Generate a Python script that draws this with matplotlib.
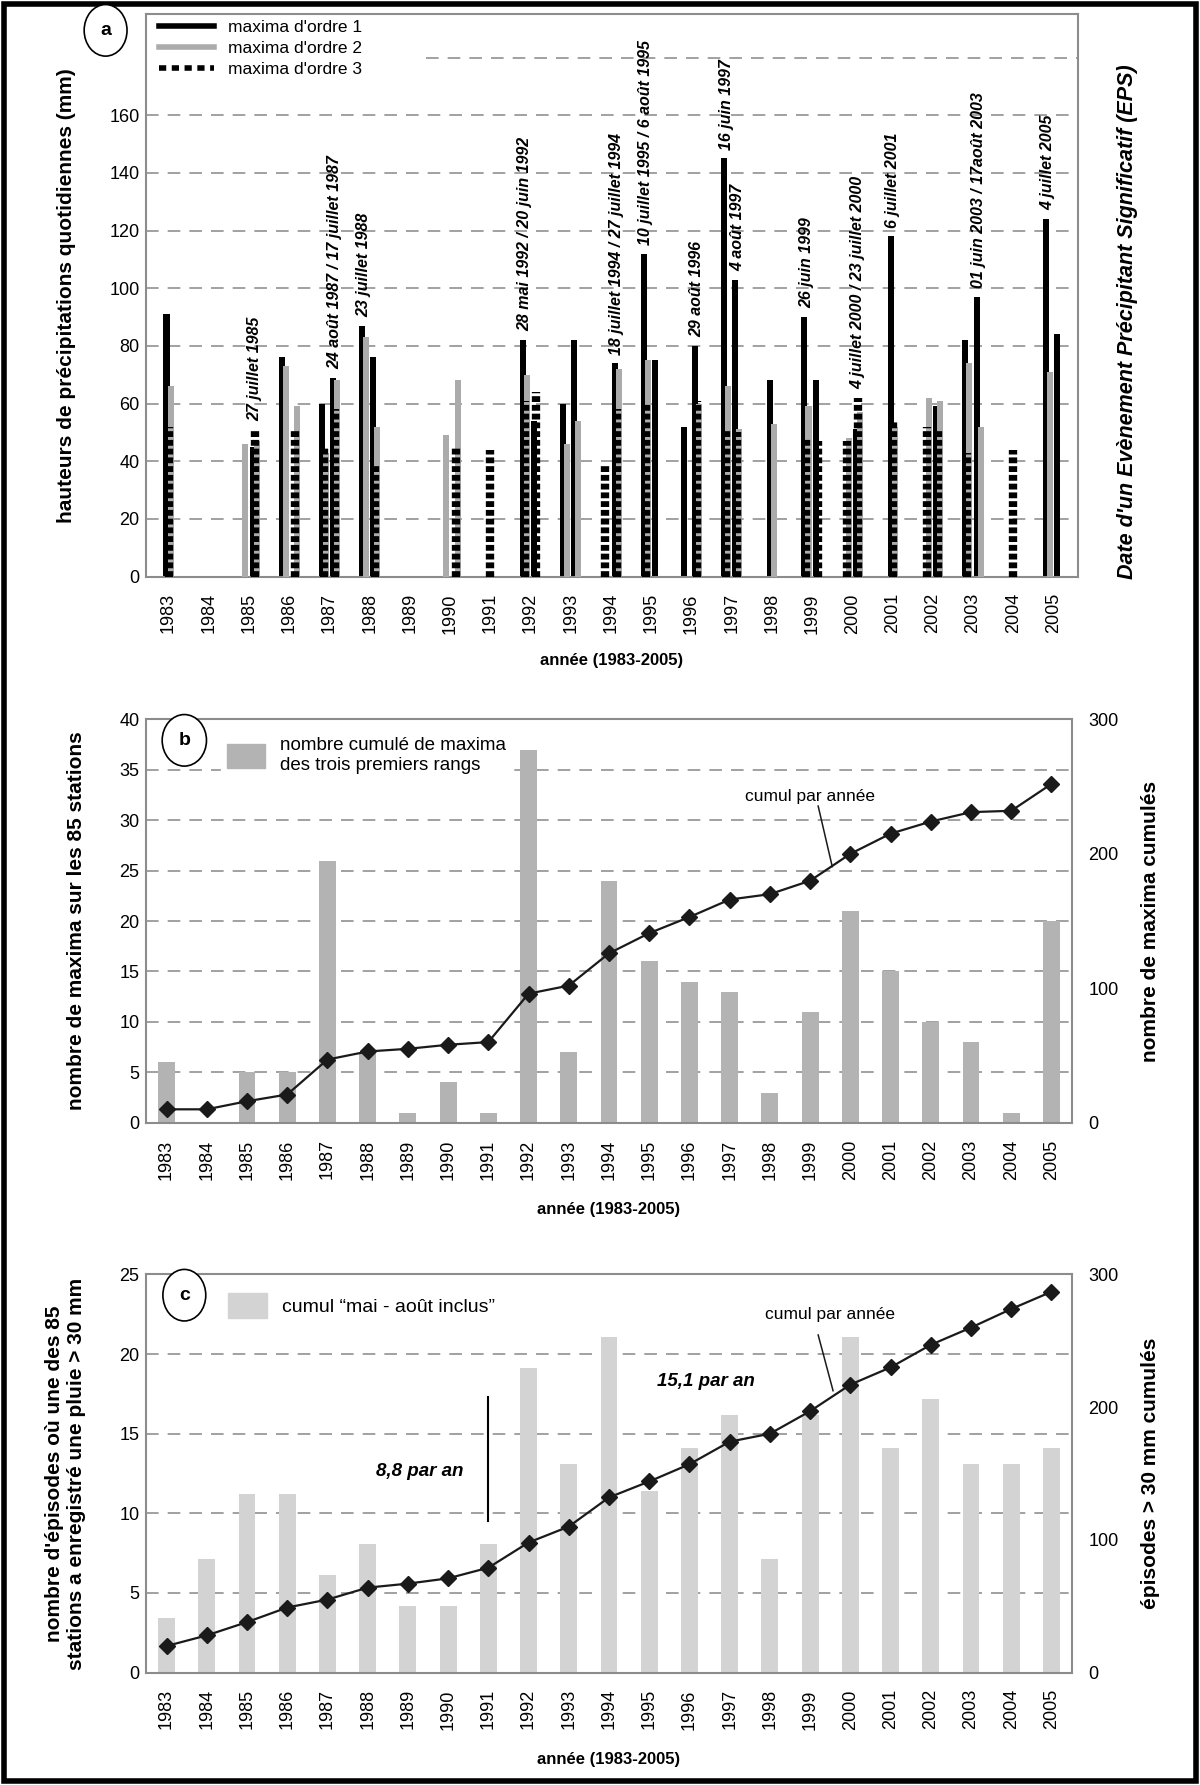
import numpy as np
import matplotlib
matplotlib.use("Agg")
import matplotlib.pyplot as plt
from matplotlib import font_manager
from matplotlib.lines import Line2D
from matplotlib.patches import Patch, Rectangle
from collections import Counter

plt.rcParams['font.family'] = ['Liberation Sans', 'DejaVu Sans']

years = list(range(1983, 2006))

# ---- panneau a : une colonne = un EPS, valeurs des maxima d'ordre 1, 2, 3 (0 = absent)
col_year = [1983, 1985, 1985, 1986, 1986, 1987, 1987, 1988, 1988, 1990, 1990, 1991,
            1992, 1992, 1993, 1993, 1994, 1994, 1995, 1995, 1996, 1996, 1997, 1997,
            1998, 1999, 1999, 2000, 2000, 2001, 2002, 2002, 2003, 2003, 2004, 2005, 2005]
ordre1 = [91, 0, 45, 76, 0, 60, 69, 87, 76, 0, 0, 0,
          82, 54, 60, 82, 0, 74, 112, 75, 52, 80, 145, 103,
          68, 90, 68, 0, 51, 118, 0, 59, 82, 97, 0, 124, 84]
ordre2 = [66, 46, 47, 73, 59, 43, 68, 83, 52, 49, 68, 0,
          70, 0, 46, 54, 0, 72, 75, 0, 0, 60, 66, 51,
          53, 59, 0, 48, 57, 52, 62, 61, 74, 52, 0, 71, 0]
ordre3 = [52, 0, 51, 0, 51, 45, 58, 0, 39, 0, 45, 44,
          61, 64, 0, 0, 39, 58, 60, 0, 0, 61, 51, 50,
          0, 48, 47, 47, 62, 54, 52, 51, 43, 0, 44, 0, 0]

# dates des EPS (année, colonne dans l'année, texte)
date_year = [1985, 1987, 1988, 1992, 1994, 1995, 1996, 1997, 1997, 1999, 2000, 2001, 2003, 2005]
date_col = [1, 1, 0, 0, 1, 0, 1, 0, 1, 0, 1, 0, 1, 0]
date_txt = ["27 juillet 1985", "24 août 1987 / 17 juillet 1987", "23 juillet 1988",
            "28 mai 1992 / 20 juin 1992", "18 juillet 1994 / 27 juillet 1994",
            "10 juillet 1995 / 6 août 1995", "29 août 1996", "16 juin 1997", "4 août 1997",
            "26 juin 1999", "4 juillet 2000 / 23 juillet 2000", "6 juillet 2001",
            "01 juin 2003 / 17août 2003", "4 juillet 2005"]

# ---- panneau b
nb_maxima = [6, 0, 5, 5, 26, 7, 1, 4, 1, 37, 7, 24, 16, 14, 13, 3, 11, 21, 15, 10, 8, 1, 20]
cumul_b = [10, 10, 16, 21, 47, 53, 55, 58, 60, 96, 102, 126, 141, 153, 166, 170,
           180, 200, 215, 224, 231, 232, 252]

# ---- panneau c
nb_episodes = [3.4, 7.1, 11.2, 11.2, 6.1, 8.1, 4.2, 4.2, 8.1, 19.1, 13.1, 21.1, 11.4,
               14.1, 16.2, 7.1, 16.2, 21.1, 14.1, 17.2, 13.1, 13.1, 14.1]
cumul_c = [20, 28, 38, 49, 55, 64, 67, 71, 79, 98, 110, 132, 144, 157, 174, 180,
           197, 217, 230, 247, 260, 274, 287]

names = {f.name for f in font_manager.fontManager.ttflist}
if 'Liberation Sans Narrow' in names:
    date_font = dict(family=['Liberation Sans Narrow', 'DejaVu Sans'], size=14)
else:
    date_font = dict(size=11.5)

grid_col = '#9a9a9a'
spine_col = '#8c8c8c'
lab_size = 15
tick_size = 13


def style_axes(ax):
    for s in ax.spines.values():
        s.set_color(spine_col)
        s.set_linewidth(1.5)
    ax.tick_params(axis='y', length=0, labelsize=tick_size, pad=5)
    ax.tick_params(axis='x', length=0, labelsize=tick_size, pad=12)
    ax.set_xticks(years)
    ax.set_xticklabels([str(y) for y in years], rotation=90)


def hgrid(ax, values, xmin=0):
    for v in values:
        ax.axhline(v, xmin=xmin, color=grid_col, lw=1.3, ls=(0, (7, 5)), zorder=0.5)


fig = plt.figure(figsize=(12, 17.85), dpi=100)

# ================= panneau a
ax = fig.add_axes([0.122, 0.677, 0.776, 0.315])
style_axes(ax)
ax.set_xlim(1982.45, 2005.6)
ax.set_ylim(0, 195)
ax.set_yticks(range(0, 161, 20))
hgrid(ax, range(20, 161, 20))
hgrid(ax, [180], xmin=0.3)

n_in_year = Counter(col_year)
seen = {}
xs = []
for y in col_year:
    k = seen.get(y, 0)
    seen[y] = k + 1
    xs.append(y + (k - (n_in_year[y] - 1) / 2) * 0.28)
xs = np.array(xs)

ax.bar(xs - 0.05, ordre1, width=0.15, color='black', zorder=2)
ax.bar(xs + 0.05, ordre2, width=0.15, color='#ababab', zorder=3)
for x, v in zip(xs, ordre3):
    if v > 0:
        ax.plot([x, x], [0, v], color='black', lw=6, ls=(0, (0.7, 0.35)),
                dash_capstyle='butt', zorder=4)

col_pos = {}
seen = {}
for y, x, a, b, c in zip(col_year, xs, ordre1, ordre2, ordre3):
    k = seen.get(y, 0)
    seen[y] = k + 1
    col_pos[(y, k)] = (x, max(a, b, c))
for y, k, t in zip(date_year, date_col, date_txt):
    x, top = col_pos[(y, k)]
    ax.text(x, top + 3, t, rotation=90, ha='center', va='bottom',
            fontweight='bold', style='italic', zorder=5, **date_font)

leg_handles = [Line2D([], [], color='black', lw=4),
               Line2D([], [], color='#ababab', lw=4),
               Line2D([], [], color='black', lw=4, ls=(0, (1.3, 1.0)))]
leg = ax.legend(leg_handles, ["maxima d'ordre 1", "maxima d'ordre 2", "maxima d'ordre 3"],
                loc='upper left', bbox_to_anchor=(0.0, 1.012), fontsize=12.5, handlelength=3.2,
                frameon=False, labelspacing=0.35, borderpad=0.2)
leg.set_zorder(6)
ax.set_ylabel("hauteurs de précipitations quotidiennes (mm)", fontsize=lab_size,
              fontweight='bold', labelpad=24)
ax.set_xlabel("année (1983-2005)", fontsize=12, fontweight='bold', labelpad=14)
fig.text(0.94, 0.82, "Date d'un Evènement Précipitant Significatif (EPS)", rotation=90,
         ha='center', va='center', fontsize=15.5, fontweight='bold', style='italic')
fig.text(0.088, 0.983, "a", ha='center', va='center', fontsize=14, fontweight='bold',
         bbox=dict(boxstyle='ellipse,pad=0.5', fc='white', ec='black', lw=1.2))


# ================= panneaux b et c
def panel(rect, bars, cumul, bar_col, ymax, ratio, letter, leg_label, leg_size, ylab, ylab2,
          txt_xy, lead_from, lead_to):
    ax = fig.add_axes(rect)
    style_axes(ax)
    ax.set_xlim(1982.5, 2005.5)
    ax.set_ylim(0, ymax)
    ax.set_yticks(np.arange(0, ymax + 1, 5))
    hgrid(ax, np.arange(5, ymax, 5))
    ax.bar(years, bars, width=0.42, color=bar_col, zorder=2)
    ax2 = ax.twinx()
    ax2.set_ylim(0, ymax * ratio)
    ax2.set_yticks(range(0, 301, 100))
    for s in ax2.spines.values():
        s.set_visible(False)
    ax2.tick_params(length=0, labelsize=tick_size, pad=12)
    ax2.plot(years, cumul, color='#1a1a1a', lw=1.6, marker='D', ms=8, zorder=3)
    ax.text(0.041, 0.948, letter, transform=ax.transAxes, ha='center', va='center',
            fontsize=14, fontweight='bold', zorder=7,
            bbox=dict(boxstyle='ellipse,pad=0.5', fc='white', ec='black', lw=1.2))
    lg = ax.legend([Patch(color=bar_col)], [leg_label], loc='upper left',
                   bbox_to_anchor=(0.07, 0.995), fontsize=leg_size, handlelength=2.0,
                   handleheight=1.6, frameon=True, fancybox=False, edgecolor='white',
                   facecolor='white', framealpha=1, borderpad=0.35, labelspacing=0.1)
    lg.set_zorder(6)
    ax2.text(txt_xy[0], txt_xy[1] * ratio, "cumul par année", ha='center', va='center',
             fontsize=12.5, zorder=5)
    ax2.plot([lead_from[0], lead_to[0]], [lead_from[1] * ratio, lead_to[1] * ratio],
             color='#1a1a1a', lw=1.1, zorder=4)
    ax.set_ylabel(ylab, fontsize=lab_size, fontweight='bold', labelpad=24)
    ax2.set_ylabel(ylab2, fontsize=lab_size, fontweight='bold', labelpad=16)
    ax.set_xlabel("année (1983-2005)", fontsize=12, fontweight='bold', labelpad=16)
    return ax, ax2


panel([0.122, 0.371, 0.771, 0.226], nb_maxima, cumul_b, '#b3b3b3', 40, 7.5, "b",
      "nombre cumulé de maxima\ndes trois premiers rangs", 13.5,
      "nombre de maxima sur les 85 stations", "nombre de maxima cumulés",
      (1999.0, 32.4), (1999.2, 31.4), (1999.55, 25.4))

axc, axc2 = panel([0.122, 0.063, 0.771, 0.223], nb_episodes, cumul_c, '#d3d3d3', 25, 12, "c",
                  "cumul “mai - août inclus”", 14,
                  "nombre d'épisodes où une des 85\nstations a enregistré une pluie > 30 mm",
                  "épisodes > 30 mm cumulés",
                  (1999.5, 22.5), (1999.2, 21.2), (1999.57, 17.7))
axc.plot([1991, 1991], [9.5, 17.3], color='black', lw=1.5, zorder=5)
axc.text(1989.3, 12.6, "8,8 par an", ha='center', va='center', fontsize=13.5,
         fontweight='bold', style='italic', zorder=5)
axc.text(1996.4, 18.3, "15,1 par an", ha='center', va='center', fontsize=13.5,
         fontweight='bold', style='italic', zorder=5)

fig.patches.append(Rectangle((0.003, 0.002), 0.994, 0.996, transform=fig.transFigure,
                             fill=False, ec='black', lw=4))

fig.savefig("out.png", dpi=100, facecolor='white')
